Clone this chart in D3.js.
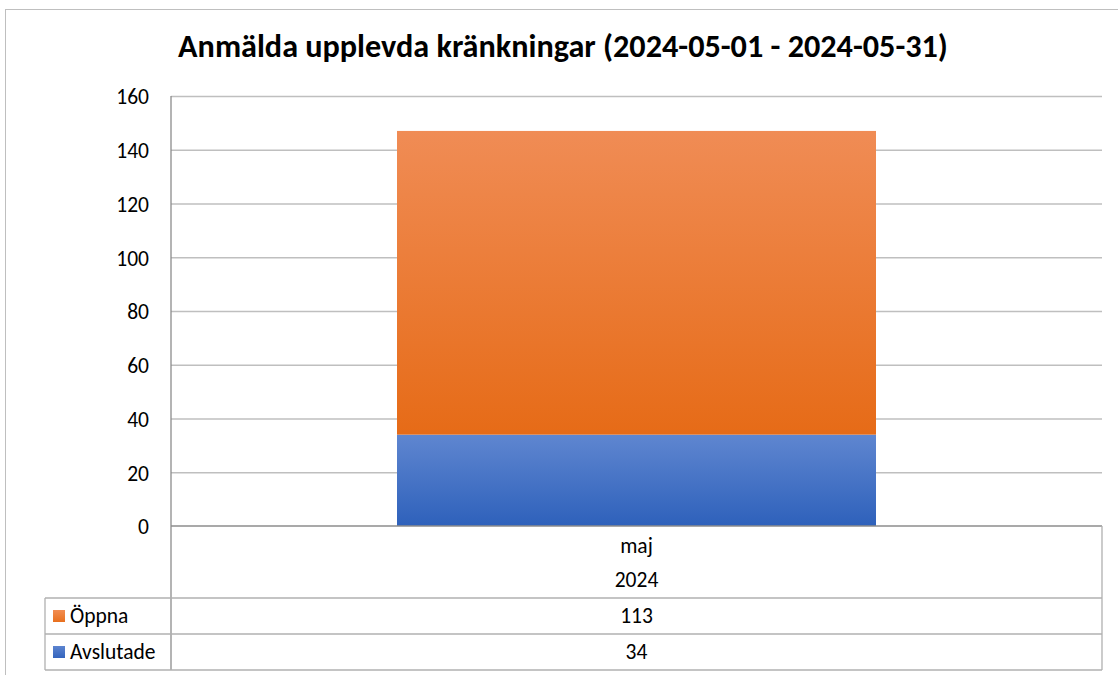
<!DOCTYPE html>
<html>
<head>
<meta charset="utf-8">
<script src="https://cdn.jsdelivr.net/npm/d3@7"></script>
<style>
  body { margin: 0; background: #fff; }
  text { font-family: Carlito, Calibri, Lato, sans-serif; fill: #000; }
</style>
</head>
<body>
<div class="container"></div>
<script>
// data
const categories = ['maj'];
const years = ['2024'];
const seriesNames = ['Avslutade', 'Öppna'];
const avslutade = [34];
const oppna = [113];
const yTicks = [0, 20, 40, 60, 80, 100, 120, 140, 160];
const titleText = 'Anmälda upplevda kränkningar (2024-05-01 - 2024-05-31)';

const W = 1118, H = 675;
const fs = '21.5px';
const svg = d3.select('.container').append('svg')
  .attr('width', W).attr('height', H);

// gradients for the bars
const defs = svg.append('defs');
function grad(id, c1, c2) {
  const g = defs.append('linearGradient').attr('id', id)
    .attr('x1', 0).attr('y1', 0).attr('x2', 0).attr('y2', 1);
  g.append('stop').attr('offset', '0%').attr('stop-color', c1);
  g.append('stop').attr('offset', '100%').attr('stop-color', c2);
}
grad('gOrange', '#f08c55', '#e66b17');
grad('gBlue', '#5f86d0', '#2e61bb');
grad('gOrangeSw', '#f28d52', '#e8701e');
grad('gBlueSw', '#5c84cf', '#3464bd');

// outer chart frame
svg.append('rect').attr('x', 5.5).attr('y', 9.5)
  .attr('width', W + 10).attr('height', H + 10)
  .attr('fill', 'none').attr('stroke', '#bfbfbf');

// title
const title = svg.append('text').attr('x', 563).attr('y', 57)
  .attr('text-anchor', 'middle')
  .style('font-size', '24px').style('font-weight', 'bold')
  .text(titleText);
const tw = title.node().getComputedTextLength();
if (tw > 0) title.style('font-size', (24 * 770 / tw) + 'px');

const plotLeft = 171, plotRight = 1102, plotTop = 96, plotBottom = 526;

const y = d3.scaleLinear().domain([0, 160]).range([plotBottom, plotTop]);
const x = d3.scaleBand().domain(categories).range([plotLeft, plotRight]).paddingInner(0).paddingOuter(0);
const barW = 479;

// gridlines
svg.append('g').selectAll('line').data(yTicks.filter(d => d > 0)).join('line')
  .attr('x1', plotLeft).attr('x2', plotRight)
  .attr('y1', d => y(d) + 0.5).attr('y2', d => y(d) + 0.5)
  .attr('stroke', '#bfbfbf').attr('stroke-width', 1.3);

// y axis labels
const yAxis = d3.axisLeft(y).tickValues(yTicks).tickSize(0).tickPadding(22);
const ya = svg.append('g').attr('transform', `translate(${plotLeft},0)`).call(yAxis);
ya.select('.domain').remove();
ya.selectAll('text').style('font-size', fs).attr('dy', '0.36em')
  .style('font-family', 'Carlito, Calibri, Lato, sans-serif');

// stacked bars
const stackData = categories.map((c, i) => ({ cat: c, Avslutade: avslutade[i], 'Öppna': oppna[i] }));
const stacked = d3.stack().keys(seriesNames)(stackData);
const fills = { 'Avslutade': 'url(#gBlue)', 'Öppna': 'url(#gOrange)' };
svg.append('g').selectAll('g').data(stacked).join('g')
  .attr('fill', d => fills[d.key])
  .selectAll('rect').data(d => d).join('rect')
  .attr('x', d => x(d.data.cat) + x.bandwidth() / 2 - barW / 2)
  .attr('width', barW)
  .attr('y', d => y(d[1]))
  .attr('height', d => y(d[0]) - y(d[1]));

// axis lines and data table
const line = (x1, y1, x2, y2, c, w = 1.3) => svg.append('line')
  .attr('x1', x1).attr('y1', y1).attr('x2', x2).attr('y2', y2)
  .attr('stroke', c).attr('stroke-width', w);

const tableLeft = 45, row1 = 598, row2 = 634, row3 = 670;
line(plotLeft, plotTop, plotLeft, row3, '#8c8c8c');      // value axis / table divider
line(plotLeft, plotBottom, plotRight, plotBottom, '#8c8c8c', 1.6);
line(plotRight, plotBottom, plotRight, row3, '#b0b0b0');
line(tableLeft, row1, plotRight, row1, '#b0b0b0');
line(tableLeft, row2, plotRight, row2, '#b0b0b0');
line(tableLeft, row3, plotRight, row3, '#b0b0b0');
line(tableLeft, row1, tableLeft, row3, '#b0b0b0');

// category labels and table values
categories.forEach((c, i) => {
  const cx = x(c) + x.bandwidth() / 2;
  svg.append('text').attr('x', cx).attr('y', 553).attr('text-anchor', 'middle')
    .style('font-size', fs).text(c);
  svg.append('text').attr('x', cx).attr('y', 587).attr('text-anchor', 'middle')
    .style('font-size', fs).text(years[i]);
  svg.append('text').attr('x', cx).attr('y', 623).attr('text-anchor', 'middle')
    .style('font-size', fs).text(oppna[i]);
  svg.append('text').attr('x', cx).attr('y', 659).attr('text-anchor', 'middle')
    .style('font-size', fs).text(avslutade[i]);
});

// legend keys in table
const legendRows = [
  { name: 'Öppna', fill: 'url(#gOrangeSw)', y: row1 },
  { name: 'Avslutade', fill: 'url(#gBlueSw)', y: row2 }
];
legendRows.forEach(r => {
  svg.append('rect').attr('x', 53).attr('y', r.y + 12).attr('width', 12).attr('height', 12)
    .attr('fill', r.fill);
  svg.append('text').attr('x', 70).attr('y', r.y + 25)
    .style('font-size', fs).text(r.name);
});
</script>
</body>
</html>
